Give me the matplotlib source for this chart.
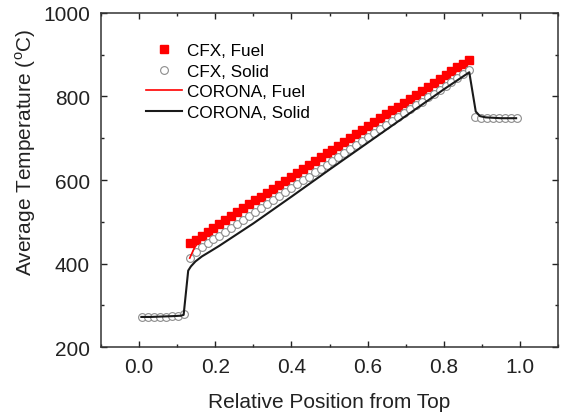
import matplotlib
matplotlib.use("Agg")
import matplotlib.pyplot as plt

plt.rcParams['font.family'] = ['Liberation Sans', 'DejaVu Sans']
plt.rcParams['mathtext.fontset'] = 'custom'
plt.rcParams['mathtext.rm'] = 'Liberation Sans'

# CFX sample positions (64 cells)
x_cfx = [0.0078, 0.0234, 0.0391, 0.0547, 0.0703, 0.0859, 0.1016, 0.1172,
         0.1328, 0.1484, 0.1641, 0.1797, 0.1953, 0.2109, 0.2266, 0.2422,
         0.2578, 0.2734, 0.2891, 0.3047, 0.3203, 0.3359, 0.3516, 0.3672,
         0.3828, 0.3984, 0.4141, 0.4297, 0.4453, 0.4609, 0.4766, 0.4922,
         0.5078, 0.5234, 0.5391, 0.5547, 0.5703, 0.5859, 0.6016, 0.6172,
         0.6328, 0.6484, 0.6641, 0.6797, 0.6953, 0.7109, 0.7266, 0.7422,
         0.7578, 0.7734, 0.7891, 0.8047, 0.8203, 0.8359, 0.8516, 0.8672,
         0.8828, 0.8984, 0.9141, 0.9297, 0.9453, 0.9609, 0.9766, 0.9922]

cfx_solid = [271, 271, 272, 272, 273, 274, 275, 278,
             413, 428, 440, 450, 459, 466, 476, 485,
             495, 504, 514, 523, 533, 542, 552, 561,
             571, 580, 590, 599, 608, 618, 627, 637,
             646, 656, 665, 675, 684, 694, 703, 712,
             722, 731, 741, 750, 760, 769, 779, 788,
             798, 807, 816, 826, 835, 845, 854, 864,
             751, 749, 748, 748, 748, 748, 748, 748]

# CFX fuel only in heated region (cells 9..56)
x_fuel = x_cfx[8:56]
cfx_fuel = [448, 457, 467, 476, 485, 495, 504, 514,
            523, 532, 542, 551, 560, 570, 579, 589,
            598, 607, 617, 626, 635, 645, 654, 664,
            673, 682, 692, 701, 710, 720, 729, 738,
            748, 757, 767, 776, 785, 795, 804, 813,
            823, 832, 842, 851, 860, 870, 879, 888]

# CORONA results
x_cor_fuel = [0.133, 0.145, 0.162, 0.2, 0.25, 0.3, 0.4, 0.5, 0.6, 0.7, 0.8, 0.867]
cor_fuel = [413, 437, 459, 484, 512, 541, 600, 660, 720, 780, 840, 880]

x_cor_solid = [0.006, 0.03, 0.06, 0.09, 0.11, 0.117, 0.129, 0.136, 0.148, 0.165,
               0.185, 0.21, 0.25, 0.3, 0.4, 0.5, 0.6, 0.7, 0.8, 0.867,
               0.884, 0.895, 0.91, 0.95, 0.99]
cor_solid = [272, 272, 273, 274, 275, 277, 383, 393, 405, 417,
             428, 442, 466, 496, 560, 625, 689, 753, 817, 858,
             764, 753, 750, 748, 748]

fig = plt.figure(figsize=(5.62, 4.14), dpi=100)
ax = fig.add_axes([0.1797, 0.1594, 0.8132, 0.8068])

ax.plot(x_fuel, cfx_fuel, linestyle='none', marker='s', markersize=5.2,
        color='#ff0000', markeredgecolor='#ff0000', label='CFX, Fuel', zorder=2)
ax.plot(x_cfx, cfx_solid, linestyle='none', marker='o', markersize=5.6,
        markerfacecolor='white', markeredgecolor='#8c8c8c', markeredgewidth=0.8,
        label='CFX, Solid', zorder=3)
ax.plot(x_cor_fuel, cor_fuel, color='#ff0000', linewidth=1.2,
        label='CORONA, Fuel', zorder=4)
ax.plot(x_cor_solid, cor_solid, color='#1a1a1a', linewidth=1.5,
        label='CORONA, Solid', zorder=5)

ax.set_xlim(-0.1, 1.1)
ax.set_ylim(200, 1000)
ax.set_xticks([0.0, 0.2, 0.4, 0.6, 0.8, 1.0])
ax.set_xticklabels(['0.0', '0.2', '0.4', '0.6', '0.8', '1.0'])
ax.set_xticks([-0.1, 0.1, 0.3, 0.5, 0.7, 0.9, 1.1], minor=True)
ax.set_yticks([200, 400, 600, 800, 1000])
ax.set_yticks([300, 500, 700, 900], minor=True)

ax.tick_params(which='both', direction='in', top=True, right=True,
               labelsize=15, colors='#222222', width=1.0)
ax.tick_params(which='major', length=4.5)
ax.tick_params(axis='x', which='major', pad=7)
ax.tick_params(axis='y', which='major', pad=8)
ax.tick_params(which='minor', length=2.5)
for s in ax.spines.values():
    s.set_linewidth(1.1)
    s.set_color('#333333')

ax.set_xlabel('Relative Position from Top', fontsize=15, color='#222222', labelpad=12)
ax.set_ylabel(r'Average Temperature ($^{\rm o}$C)', fontsize=15, color='#222222')
ax.yaxis.set_label_coords(-0.137, 0.587)

leg = ax.legend(loc='upper left', bbox_to_anchor=(0.073, 0.945), frameon=False,
                fontsize=12.3, handlelength=2.1, handletextpad=0.3,
                labelspacing=0.32, borderpad=0.2)

fig.savefig('out.png', dpi=100)
